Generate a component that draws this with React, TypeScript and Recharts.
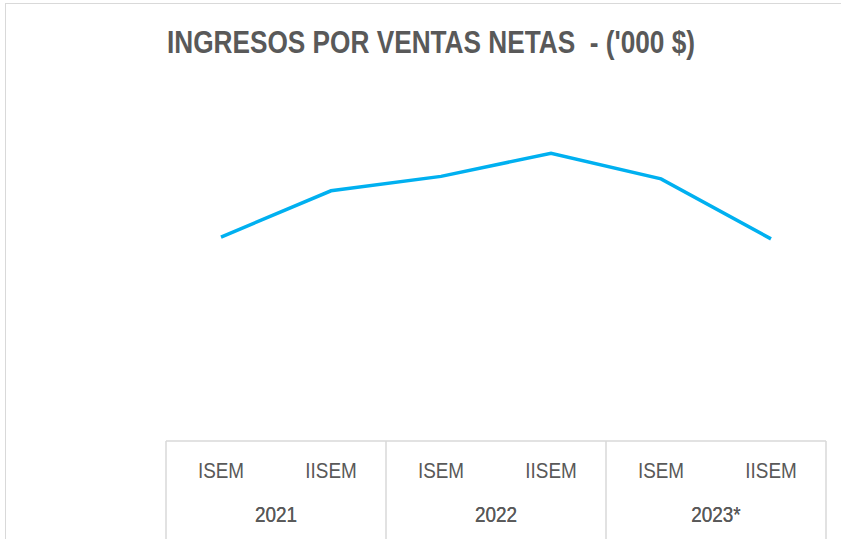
import { Line, LineChart, XAxis, YAxis } from 'recharts'

// Ventas netas por semestre (miles de $)
const semesters = ['ISEM', 'IISEM', 'ISEM', 'IISEM', 'ISEM', 'IISEM']
const years = ['2021', '2021', '2022', '2022', '2023*', '2023*']
const ventas = [565, 693, 733, 797, 726, 560]

const data = semesters.map((sem, i) => ({ key: `${years[i]}-${sem}`, sem, year: years[i], ventas: ventas[i] }))

const GRID = '#d9d9d9'
const TEXT = '#595959'
const FONT = '"Liberation Sans", Arial, sans-serif'
const NARROW = 0.86

const SemTick = (props: any) => {
  const { x, y, payload, index } = props
  const half = payload.offset || 0
  const last = index === semesters.length - 1
  return (
    <g>
      {index % 2 === 0 && <line x1={x - half} x2={x - half} y1={y} y2={y + 98} stroke={GRID} strokeWidth={1.5} />}
      {last && <line x1={x + half} x2={x + half} y1={y} y2={y + 98} stroke={GRID} strokeWidth={1.5} />}
      <text
        transform={`translate(${x},${y + 37}) scale(${NARROW},1)`}
        textAnchor='middle'
        fill={TEXT}
        fontSize={22}
        fontFamily={FONT}
      >
        {semesters[index]}
      </text>
    </g>
  )
}

const YearTick = (props: any) => {
  const { x, y, payload } = props
  return (
    <text
      transform={`translate(${x},${y + 29}) scale(${NARROW},1)`}
      textAnchor='middle'
      fill={TEXT}
      fontSize={22}
      fontFamily={FONT}
    >
      {payload.value}
    </text>
  )
}

export default function App() {
  return (
    <div style={{ position: 'absolute', left: 0, top: 0, width: 841, height: 539, background: '#fff', overflow: 'hidden' }}>
      <div
        style={{
          position: 'absolute',
          left: 5,
          top: 3,
          width: 900,
          height: 600,
          border: `1.5px solid ${GRID}`,
          boxSizing: 'border-box'
        }}
      />
      <div style={{ position: 'absolute', left: 0, top: 0 }}>
        <LineChart width={841} height={539} data={data} margin={{ top: 80, right: 15, bottom: 0, left: 166 }}>
          <text
            x={167}
            y={52.5}
            textLength={528}
            lengthAdjust='spacingAndGlyphs'
            fill={TEXT}
            fontSize={31}
            fontWeight='bold'
            fontFamily={FONT}
            style={{ whiteSpace: 'pre' }}
          >
            {"INGRESOS POR VENTAS NETAS  - ('000 $)"}
          </text>
          <XAxis
            xAxisId='sem'
            dataKey='key'
            scale='band'
            height={52}
            axisLine={{ stroke: GRID, strokeWidth: 1.5 }}
            tickLine={false}
            tickSize={0}
            tickMargin={0}
            interval={0}
            tick={<SemTick />}
          />
          <XAxis
            xAxisId='year'
            dataKey='year'
            scale='band'
            allowDuplicatedCategory={false}
            height={46}
            axisLine={false}
            tickLine={false}
            tickSize={0}
            tickMargin={0}
            interval={0}
            tick={<YearTick />}
          />
          <YAxis hide domain={[0, 1000]} />
          <Line
            xAxisId='sem'
            type='linear'
            dataKey='ventas'
            stroke='#00b0f0'
            strokeWidth={3.5}
            dot={false}
            activeDot={false}
            isAnimationActive={false}
          />
        </LineChart>
      </div>
    </div>
  )
}
